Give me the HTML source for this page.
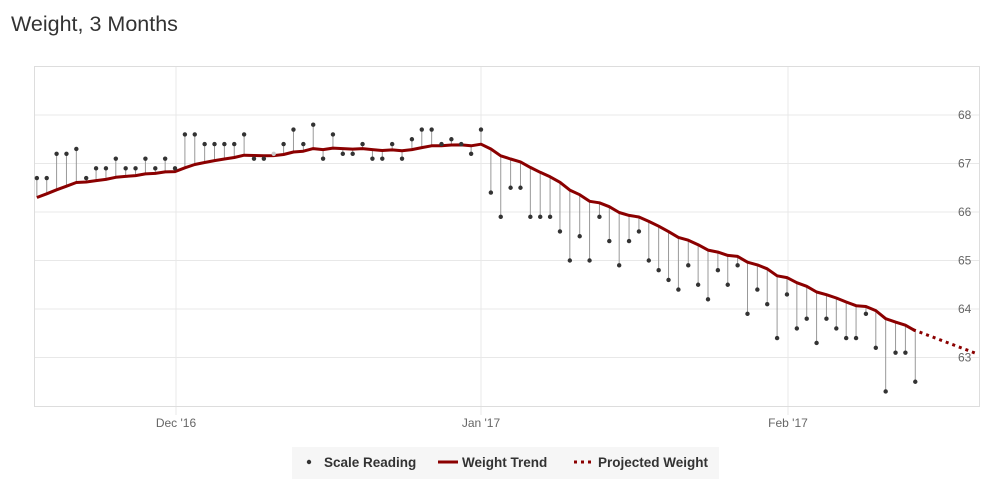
<!DOCTYPE html>
<html><head><meta charset="utf-8"><style>
body{margin:0;background:#fff;width:999px;height:490px;overflow:hidden;font-family:"Liberation Sans",sans-serif}
</style></head><body>
<svg id="s" width="999" height="490" xmlns="http://www.w3.org/2000/svg">
<text x="11" y="31" font-size="21.5" fill="#333">Weight, 3 Months</text>
<g id="grid"></g>
<rect x="34.5" y="66.5" width="945" height="340" fill="none" stroke="#ddd"/>
<g id="lbl" font-size="12" fill="#666"></g>
<g id="stems" stroke="#999" stroke-width="1"></g>
<polyline id="trend" fill="none" stroke="#8b0000" stroke-width="3" stroke-linejoin="round"/>
<line x1="913" y1="329.6" x2="976" y2="353.4" stroke="#8b0000" stroke-width="3" stroke-dasharray="3,4"/>
<g id="dots" fill="#333"></g>
<rect x="292" y="447" width="427" height="32" fill="#f6f6f6"/>
<circle cx="309" cy="462" r="2.2" fill="#333"/>
<text x="324" y="467" font-size="13.5" font-weight="bold" fill="#333">Scale Reading</text>
<line x1="438" y1="462" x2="458" y2="462" stroke="#8b0000" stroke-width="3"/>
<text x="462" y="467" font-size="13.5" font-weight="bold" fill="#333">Weight Trend</text>
<line x1="574" y1="462" x2="593" y2="462" stroke="#8b0000" stroke-width="3" stroke-dasharray="3,4"/>
<text x="598" y="467" font-size="13.5" font-weight="bold" fill="#333">Projected Weight</text>
</svg>
<script>
var NS="http://www.w3.org/2000/svg";
function el(p,t,a,txt){var e=document.createElementNS(NS,t);for(var k in a)e.setAttribute(k,a[k]);if(txt)e.textContent=txt;document.getElementById(p).appendChild(e);return e;}
function Y(v){return 115+(68-v)*48.5;}
for(var v=63;v<=68;v++){el("grid","line",{x1:34,x2:979,y1:Y(v),y2:Y(v),stroke:"#e8e8e8"});el("lbl","text",{x:958,y:Y(v)+4},""+v);}
[[176,"Dec '16"],[481,"Jan '17"],[788,"Feb '17"]].forEach(function(d){el("grid","line",{x1:d[0],x2:d[0],y1:66,y2:415,stroke:"#e8e8e8"});el("lbl","text",{x:d[0],y:427,"text-anchor":"middle"},d[1]);});
var r=[66.7,66.7,67.2,67.2,67.3,66.7,66.9,66.9,67.1,66.9,66.9,67.1,66.9,67.1,66.9,67.6,67.6,67.4,67.4,67.4,67.4,67.6,67.1,67.1,67.2,67.4,67.7,67.4,67.8,67.1,67.6,67.2,67.2,67.4,67.1,67.1,67.4,67.1,67.5,67.7,67.7,67.4,67.5,67.4,67.2,67.7,
66.4,65.9,66.5,66.5,65.9,65.9,65.9,65.6,65.0,65.5,65.0,65.9,65.4,64.9,65.4,65.6,65.0,64.8,64.6,64.4,64.9,64.5,64.2,64.8,64.5,64.9,63.9,64.4,64.1,63.4,64.3,63.6,63.8,63.3,63.8,63.6,63.4,63.4,63.9,63.2,62.3,63.1,63.1,62.5];
var n=r.length,x0=481-45*9.87,t=66.3,pts=[],tr=[];
for(var i=0;i<n;i++){t=t+0.1*(r[i]-t);tr.push(t);}
var adj=63.55-tr[n-1];
for(var i=0;i<n;i++){var x=x0+i*9.87;var tv=tr[i]+adj*i/(n-1);if(i==0)tv=66.3;pts.push(x.toFixed(1)+","+Y(tv).toFixed(1));
el("stems","line",{x1:x,x2:x,y1:Y(tv),y2:Y(r[i])});el("dots","circle",{cx:x,cy:Y(r[i]),r:2.2,fill:i==24?"#ccc":"#333"});}
document.getElementById("trend").setAttribute("points",pts.join(" "));
</script>
</body></html>
